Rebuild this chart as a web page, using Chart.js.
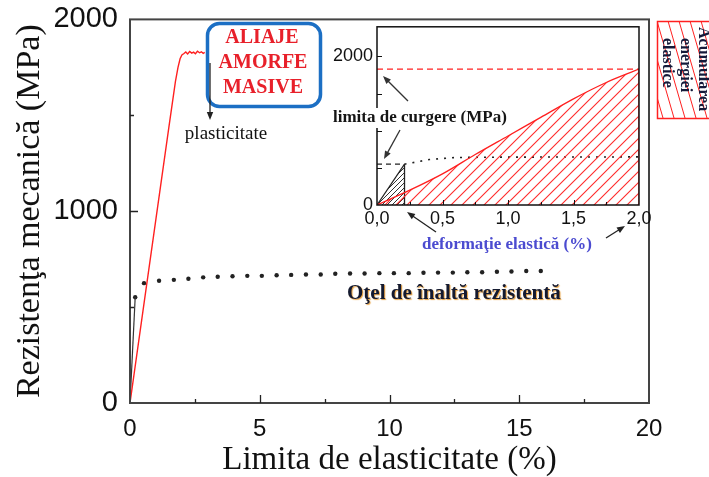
<!DOCTYPE html>
<html>
<head>
<meta charset="utf-8">
<script src="https://cdn.jsdelivr.net/npm/chart.js@4"></script>
<style>
  html, body { margin: 0; padding: 0; background: #fff; overflow: hidden; }
  #wrap { position: relative; width: 709px; height: 477px; overflow: hidden; }
  #mainChart { position: absolute; left: 0; top: -10px; }
  #insetChart { position: absolute; left: 325px; top: 12px; }
</style>
</head>
<body>
<div id="wrap">
  <canvas id="mainChart" width="709" height="487"></canvas>
  <canvas id="insetChart" width="335" height="220"></canvas>
</div>
<script>
// main chart: bulk metallic glass (red) and high strength steel (black)
const glassStrain = [0, 0.5, 1.0, 1.5, 1.75, 1.85, 1.93, 2.0, 2.08, 2.15, 2.22, 2.3, 2.38, 2.45, 2.52, 2.6, 2.68, 2.75, 2.82, 2.88];
const glassStress = [0, 480, 960, 1440, 1675, 1750, 1795, 1815, 1822, 1830, 1820, 1833, 1824, 1829, 1821, 1834, 1826, 1831, 1823, 1828];

const steelElasticStrain = [0, 0.2];
const steelElasticStress = [0, 551];

const steelStrain = [0.2, 0.54, 1.12, 1.69, 2.25, 2.82, 3.38, 3.95, 4.52, 5.08, 5.65, 6.21, 6.78, 7.35,
  7.91, 8.48, 9.04, 9.61, 10.17, 10.74, 11.31, 11.87, 12.44, 13.0, 13.57, 14.14, 14.7, 15.27, 15.83];
const steelStress = [551, 625, 637, 642, 648, 655, 658, 661, 663, 663, 666, 668, 670, 670,
  674, 675, 675, 677, 677, 677, 679, 680, 680, 682, 682, 684, 686, 688, 688];

const mainMajorX = [5, 10, 15];
const mainMinorX = [2.5, 7.5, 12.5, 17.5];
const mainMajorY = [1000];
const mainMinorY = [500, 1500];

// inset: elastic energy storage
const insetGlassStrain = [0, 0.25, 0.5, 0.75, 1.0, 1.25, 1.5, 1.75, 2.0];
const insetGlassStress = [0, 200, 420, 680, 930, 1180, 1430, 1650, 1830];
const insetGlassEdgeX = [2.0, 2.0];
const insetGlassEdgeY = [0, 1830];
const insetGlassYieldX = [0, 2.0];
const insetGlassYieldY = [1830, 1830];

const insetSteelStrain = [0, 0.21];
const insetSteelStress = [0, 550];
const insetSteelEdgeX = [0.21, 0.21];
const insetSteelEdgeY = [0, 550];
const insetSteelYieldX = [0, 0.21];
const insetSteelYieldY = [550, 550];
const insetSteelPlasticX = [0.21, 0.4, 0.6, 1.0, 1.5, 2.0];
const insetSteelPlasticY = [550, 612, 640, 645, 646, 648];

const insetLabelsY = [0, 2000];
const insetMajorX = [0.5, 1.0, 1.5];
const insetMinorX = [0.25, 0.75, 1.25, 1.75];
const insetTicksY = [500, 1000, 1500, 2000];

const RED = '#ff2020';
const SERIF = "'Liberation Serif', 'Times New Roman', serif";
const SANS = "'Liberation Sans', Arial, sans-serif";

// canvas offsets (page coordinates = canvas coordinates + offset)
const MAIN_OY = -10;
const OX = 325, OY = 12;

function toPoints(xs, ys) {
  return xs.map((x, i) => ({ x: x, y: ys[i] }));
}

function makeHatch(ctx, size, color, width) {
  const c = document.createElement('canvas');
  c.width = size;
  c.height = size;
  const p = c.getContext('2d');
  p.strokeStyle = color;
  p.lineWidth = width;
  p.beginPath();
  p.moveTo(0, size); p.lineTo(size, 0);
  p.moveTo(-size / 2, size / 2); p.lineTo(size / 2, -size / 2);
  p.moveTo(size / 2, size * 1.5); p.lineTo(size * 1.5, size / 2);
  p.stroke();
  return ctx.createPattern(c, 'repeat');
}

function arrow(ctx, x1, y1, x2, y2, color) {
  const ang = Math.atan2(y2 - y1, x2 - x1);
  const h = 8, w = 3.2;
  const c = Math.cos(ang), s = Math.sin(ang);
  ctx.strokeStyle = color;
  ctx.fillStyle = color;
  ctx.lineWidth = 1.3;
  ctx.beginPath();
  ctx.moveTo(x1, y1);
  ctx.lineTo(x2 - c * h * 0.7, y2 - s * h * 0.7);
  ctx.stroke();
  ctx.beginPath();
  ctx.moveTo(x2, y2);
  ctx.lineTo(x2 - h * c + w * s, y2 - h * s - w * c);
  ctx.lineTo(x2 - h * c - w * s, y2 - h * s + w * c);
  ctx.closePath();
  ctx.fill();
}

function inwardTicks(ctx, chart, xs, ys, len) {
  const a = chart.chartArea;
  const { x, y } = chart.scales;
  ctx.beginPath();
  for (const v of xs) {
    const px = Math.round(x.getPixelForValue(v)) + 0.5;
    ctx.moveTo(px, a.bottom);
    ctx.lineTo(px, a.bottom - len);
  }
  for (const v of ys) {
    const py = Math.round(y.getPixelForValue(v)) + 0.5;
    ctx.moveTo(a.left, py);
    ctx.lineTo(a.left + len, py);
  }
  ctx.stroke();
}

function roundRect(ctx, x, y, w, h, r) {
  ctx.beginPath();
  ctx.moveTo(x + r, y);
  ctx.arcTo(x + w, y, x + w, y + h, r);
  ctx.arcTo(x + w, y + h, x, y + h, r);
  ctx.arcTo(x, y + h, x, y, r);
  ctx.arcTo(x, y, x + w, y, r);
  ctx.closePath();
}

const mainDecor = {
  id: 'mainDecor',
  afterDraw(chart) {
    const ctx = chart.ctx;
    const a = chart.chartArea;
    ctx.save();

    // frame and inward ticks
    ctx.strokeStyle = '#444';
    ctx.lineWidth = 2;
    ctx.strokeRect(a.left, a.top, a.right - a.left, a.bottom - a.top);
    ctx.strokeStyle = '#222';
    ctx.lineWidth = 1.3;
    inwardTicks(ctx, chart, mainMajorX, mainMajorY, 8);
    inwardTicks(ctx, chart, mainMinorX, mainMinorY, 4);

    // annotations below are laid out in page pixels
    ctx.translate(0, -MAIN_OY);

    // ALIAJE AMORFE MASIVE box
    roundRect(ctx, 207.5, 23.5, 113, 83, 12);
    ctx.fillStyle = '#fff';
    ctx.fill();
    ctx.strokeStyle = '#1c6fc4';
    ctx.lineWidth = 3.5;
    ctx.stroke();
    arrow(ctx, 210, 63, 210, 120, '#222');
    ctx.fillStyle = '#e8202a';
    ctx.font = 'bold 20px ' + SERIF;
    ctx.textAlign = 'center';
    ctx.textBaseline = 'middle';
    ctx.fillText('ALIAJE', 262, 38);
    ctx.fillText('AMORFE', 263, 63);
    ctx.fillText('MASIVE', 263, 88);

    ctx.fillStyle = '#111';
    ctx.font = '19px ' + SERIF;
    ctx.fillText('plasticitate', 226, 134);

    // steel label with warm shadow
    ctx.save();
    ctx.font = 'bold 21px ' + SERIF;
    ctx.textAlign = 'left';
    ctx.shadowColor = 'rgba(230,150,40,0.9)';
    ctx.shadowOffsetX = 1;
    ctx.shadowOffsetY = 1;
    ctx.shadowBlur = 1;
    ctx.fillStyle = '#141a30';
    ctx.fillText('Oţel de înaltă rezistentă', 347, 294);
    ctx.restore();

    // inset x label
    ctx.font = 'bold 17px ' + SERIF;
    ctx.textAlign = 'left';
    ctx.fillStyle = '#4b4bd0';
    ctx.fillText('deformaţie elastică (%)', 422, 245);
    arrow(ctx, 436, 232, 407, 212, '#222');
    arrow(ctx, 606, 238, 625, 226, '#222');

    // side key: elastic energy storage
    const kx = 657, ky = 21, kw = 60, kh = 97;
    ctx.save();
    ctx.beginPath();
    ctx.rect(kx, ky, kw, kh);
    ctx.clip();
    ctx.strokeStyle = RED;
    ctx.lineWidth = 1;
    ctx.beginPath();
    for (let k = -4; k < 8; k++) {
      const x0 = kx + k * 11;
      ctx.moveTo(x0, ky);
      ctx.lineTo(x0 + 28, ky + kh);
    }
    ctx.stroke();
    ctx.restore();
    ctx.strokeStyle = RED;
    ctx.lineWidth = 1.5;
    ctx.strokeRect(kx + 0.5, ky + 0.5, kw, kh);

    ctx.save();
    ctx.font = 'bold 16px ' + SERIF;
    ctx.fillStyle = '#151a3a';
    ctx.textAlign = 'left';
    ctx.textBaseline = 'middle';
    const keyLines = [['Acumularea', 703, 27], ['energiei', 685, 38], ['elastice', 667, 38]];
    for (const [t, cx, ty] of keyLines) {
      ctx.save();
      ctx.translate(cx, ty);
      ctx.rotate(Math.PI / 2);
      ctx.fillText(t, 0, 0);
      ctx.restore();
    }
    ctx.restore();

    ctx.restore();
  }
};

new Chart(document.getElementById('mainChart'), {
  type: 'line',
  data: {
    datasets: [
      {
        data: toPoints(glassStrain, glassStress),
        borderColor: RED,
        borderWidth: 1.4,
        pointRadius: 0,
        fill: false
      },
      {
        data: toPoints(steelElasticStrain, steelElasticStress),
        borderColor: '#333',
        borderWidth: 1.2,
        pointRadius: 0,
        fill: false
      },
      {
        data: toPoints(steelStrain, steelStress),
        showLine: false,
        pointRadius: 2.2,
        pointBackgroundColor: '#222',
        pointBorderWidth: 0
      }
    ]
  },
  options: {
    responsive: false,
    animation: false,
    layout: { padding: { top: 9, right: 60, left: 0, bottom: 0 } },
    plugins: { legend: { display: false }, tooltip: { enabled: false } },
    scales: {
      x: {
        type: 'linear',
        min: 0,
        max: 20,
        grid: { display: false, drawTicks: false },
        border: { display: false },
        ticks: { stepSize: 5, font: { family: SANS, size: 24 }, color: '#111', padding: 12, maxRotation: 0, callback: v => String(v) },
        title: {
          display: true,
          text: 'Limita de elasticitate (%)',
          font: { family: SERIF, size: 33, lineHeight: 1 },
          color: '#111',
          padding: { top: 0, bottom: 0 }
        },
        afterFit: s => { s.height = 74; }
      },
      y: {
        min: 0,
        max: 2000,
        grid: { display: false, drawTicks: false },
        border: { display: false },
        ticks: { stepSize: 1000, font: { family: SANS, size: 29 }, color: '#111', padding: 12, callback: v => String(v) },
        title: {
          display: true,
          text: 'Rezistenţa mecanică (MPa)',
          font: { family: SERIF, size: 34, lineHeight: 1 },
          color: '#111',
          padding: { top: 13, bottom: 0 }
        },
        afterFit: s => { s.width = 130; }
      }
    }
  },
  plugins: [mainDecor]
});

const insetCanvas = document.getElementById('insetChart');
const insetCtx = insetCanvas.getContext('2d');
const redHatch = makeHatch(insetCtx, 11, '#ff2a2a', 1.1);
const blackHatch = makeHatch(insetCtx, 5, '#333', 1);

const insetDecor = {
  id: 'insetDecor',
  afterDraw(chart) {
    const ctx = chart.ctx;
    const a = chart.chartArea;
    ctx.save();
    ctx.strokeStyle = '#111';
    ctx.lineWidth = 1.5;
    ctx.strokeRect(a.left, a.top, a.right - a.left, a.bottom - a.top);
    ctx.lineWidth = 1;
    inwardTicks(ctx, chart, insetMajorX, insetTicksY, 5);
    inwardTicks(ctx, chart, insetMinorX, [], 3);

    // yield strength label, laid out in page pixels
    ctx.translate(-OX, -OY);
    ctx.fillStyle = '#fff';
    ctx.fillRect(332, 108, 182, 20);
    ctx.font = 'bold 17px ' + SERIF;
    ctx.fillStyle = '#151515';
    ctx.textAlign = 'left';
    ctx.textBaseline = 'middle';
    ctx.fillText('limita de curgere (MPa)', 333, 118);
    arrow(ctx, 408, 101, 383, 76, '#333');
    arrow(ctx, 400, 130, 384, 159, '#333');
    ctx.restore();
  }
};

new Chart(insetCanvas, {
  type: 'line',
  data: {
    datasets: [
      {
        data: toPoints(insetGlassStrain, insetGlassStress),
        borderColor: RED,
        borderWidth: 1.3,
        pointRadius: 0,
        cubicInterpolationMode: 'monotone',
        fill: 'origin',
        backgroundColor: redHatch
      },
      {
        data: toPoints(insetGlassEdgeX, insetGlassEdgeY),
        borderColor: RED,
        borderWidth: 1.3,
        pointRadius: 0,
        fill: false
      },
      {
        data: toPoints(insetGlassYieldX, insetGlassYieldY),
        borderColor: RED,
        borderWidth: 1.3,
        borderDash: [6, 4],
        pointRadius: 0,
        fill: false
      },
      {
        data: toPoints(insetSteelStrain, insetSteelStress),
        borderColor: '#222',
        borderWidth: 1.2,
        pointRadius: 0,
        fill: 'origin',
        backgroundColor: blackHatch
      },
      {
        data: toPoints(insetSteelEdgeX, insetSteelEdgeY),
        borderColor: '#222',
        borderWidth: 1.3,
        pointRadius: 0,
        fill: false
      },
      {
        data: toPoints(insetSteelYieldX, insetSteelYieldY),
        borderColor: '#222',
        borderWidth: 1.3,
        borderDash: [5, 4],
        pointRadius: 0,
        fill: false
      },
      {
        data: toPoints(insetSteelPlasticX, insetSteelPlasticY),
        borderColor: '#222',
        borderWidth: 1.6,
        borderDash: [2, 6],
        pointRadius: 0,
        fill: false
      }
    ]
  },
  options: {
    responsive: false,
    animation: false,
    layout: { padding: { top: 5, right: 21, left: 0, bottom: 0 } },
    plugins: { legend: { display: false }, tooltip: { enabled: false } },
    scales: {
      x: {
        type: 'linear',
        min: 0,
        max: 2.0,
        grid: { display: false, drawTicks: false },
        border: { display: false },
        ticks: {
          stepSize: 0.5,
          font: { family: SANS, size: 18 },
          color: '#111',
          padding: 3,
          maxRotation: 0,
          callback: v => v.toFixed(1).replace('.', ',')
        },
        afterFit: s => { s.height = 27; }
      },
      y: {
        min: 0,
        max: 2400,
        grid: { display: false, drawTicks: false },
        border: { display: false },
        afterBuildTicks: s => { s.ticks = insetLabelsY.map(v => ({ value: v })); },
        ticks: {
          font: { family: SANS, size: 18 },
          color: '#111',
          padding: 4,
          callback: v => String(v)
        },
        afterFit: s => { s.width = 52; }
      }
    }
  },
  plugins: [insetDecor]
});
</script>
</body>
</html>
